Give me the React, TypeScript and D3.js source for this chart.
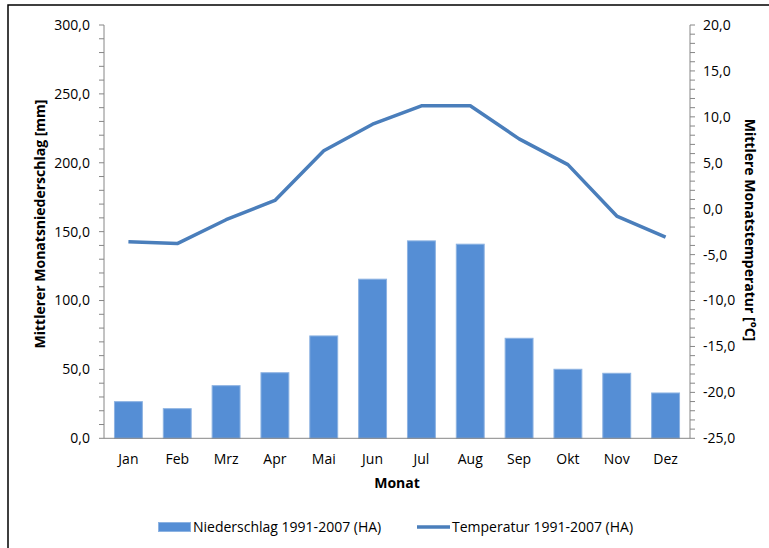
import React from "react";
import * as d3 from "d3";

const months = ["Jan", "Feb", "Mrz", "Apr", "Mai", "Jun", "Jul", "Aug", "Sep", "Okt", "Nov", "Dez"];
const precipitation = [26.6, 21.5, 38.2, 47.6, 74.3, 115.5, 143.3, 140.9, 72.6, 50.1, 47.2, 32.9];
const temperature = [-3.6, -3.8, -1.2, 0.9, 6.3, 9.2, 11.2, 11.2, 7.6, 4.8, -0.8, -3.1];
const leftTicks = [0, 50, 100, 150, 200, 250, 300];
const rightTicks = [-25, -20, -15, -10, -5, 0, 5, 10, 15, 20];
const seriesNames = ["Niederschlag 1991-2007 (HA)", "Temperatur 1991-2007 (HA)"];

const W = 769;
const H = 548;
const plot = { left: 104, right: 690, top: 25, bottom: 438.3 };
const FONT = "'Open Sans', sans-serif";
const barFill = "#558ED5";
const barStroke = "#8DB3E2";
const lineColor = "#4A7EBB";
const axisColor = "#868686";

const fmt = (v: number) => v.toFixed(1).replace(".", ",");

export default function App() {
  const x = d3.scaleBand<string>().domain(months).range([plot.left, plot.right]).paddingInner(0).paddingOuter(0);
  const yL = d3.scaleLinear().domain([0, 300]).range([plot.bottom, plot.top]);
  const yR = d3.scaleLinear().domain([-25, 20]).range([plot.bottom, plot.top]);
  const bw = x.bandwidth() / 1.75;

  const line = d3
    .line<number>()
    .x((_, i) => (x(months[i]) as number) + x.bandwidth() / 2)
    .y((d) => yR(d));

  const leftMinor = d3.range(0, 301, 10);
  const rightMinor = d3.range(-25, 21, 1);

  return (
    <svg
      width={W}
      height={H}
      style={{ position: "absolute", left: 0, top: 0, background: "#fff" }}
      fontFamily={FONT}
    >
      <rect x={8} y={5} width={800} height={600} fill="#fff" stroke="#000" strokeWidth={1.5} />

      {/* bars */}
      {precipitation.map((v, i) => {
        const cx = (x(months[i]) as number) + x.bandwidth() / 2;
        return (
          <rect
            key={months[i]}
            x={cx - bw / 2}
            y={yL(v)}
            width={bw}
            height={yL(0) - yL(v)}
            fill={barFill}
            stroke={barStroke}
            strokeWidth={1}
          />
        );
      })}

      {/* left axis */}
      <line x1={plot.left} x2={plot.left} y1={plot.top} y2={plot.bottom} stroke={axisColor} strokeWidth={1} />
      {leftMinor.map((t) => (
        <line key={"lm" + t} x1={plot.left - 5} x2={plot.left} y1={yL(t)} y2={yL(t)} stroke={axisColor} strokeWidth={1} />
      ))}
      {leftTicks.map((t) => (
        <text key={"lt" + t} x={90} y={yL(t)} dy="0.35em" textAnchor="end" fontSize={14} fill="#000">
          {fmt(t)}
        </text>
      ))}

      {/* right axis */}
      <line x1={plot.right} x2={plot.right} y1={plot.top} y2={plot.bottom} stroke={axisColor} strokeWidth={1} />
      {rightMinor.map((t) => (
        <line key={"rm" + t} x1={plot.right} x2={plot.right + 5} y1={yR(t)} y2={yR(t)} stroke={axisColor} strokeWidth={1} />
      ))}
      {rightTicks.map((t) => (
        <text key={"rt" + t} x={703} y={yR(t)} dy="0.35em" textAnchor="start" fontSize={14} fill="#000">
          {fmt(t)}
        </text>
      ))}

      {/* x axis */}
      <line x1={plot.left} x2={plot.right} y1={plot.bottom} y2={plot.bottom} stroke={axisColor} strokeWidth={1} />
      {months.map((m) => (
        <text
          key={"xt" + m}
          x={(x(m) as number) + x.bandwidth() / 2}
          y={464}
          textAnchor="middle"
          fontSize={14}
          fill="#000"
        >
          {m}
        </text>
      ))}

      {/* temperature line */}
      <path d={line(temperature) as string} fill="none" stroke={lineColor} strokeWidth={3.5} strokeLinejoin="round" />

      {/* axis titles */}
      <text
        transform={`translate(45,${224}) rotate(-90)`}
        textAnchor="middle"
        fontSize={14}
        fontWeight="bold"
        fill="#000"
      >
        Mittlerer Monatsniederschlag [mm]
      </text>
      <text
        transform={`translate(745,${230}) rotate(90)`}
        textAnchor="middle"
        fontSize={14}
        fontWeight="bold"
        fill="#000"
      >
        Mittlere Monatstemperatur [°C]
      </text>
      <text x={397} y={488} textAnchor="middle" fontSize={14} fontWeight="bold" fill="#000">
        Monat
      </text>

      {/* legend */}
      <rect x={158.5} y={522.5} width={32} height={9} fill={barFill} stroke={barStroke} strokeWidth={1} />
      <text x={193} y={531.5} fontSize={14} fill="#000">
        {seriesNames[0]}
      </text>
      <line x1={417} x2={450} y1={527} y2={527} stroke={lineColor} strokeWidth={3.5} />
      <text x={452} y={531.5} fontSize={14} fill="#000">
        {seriesNames[1]}
      </text>
    </svg>
  );
}
